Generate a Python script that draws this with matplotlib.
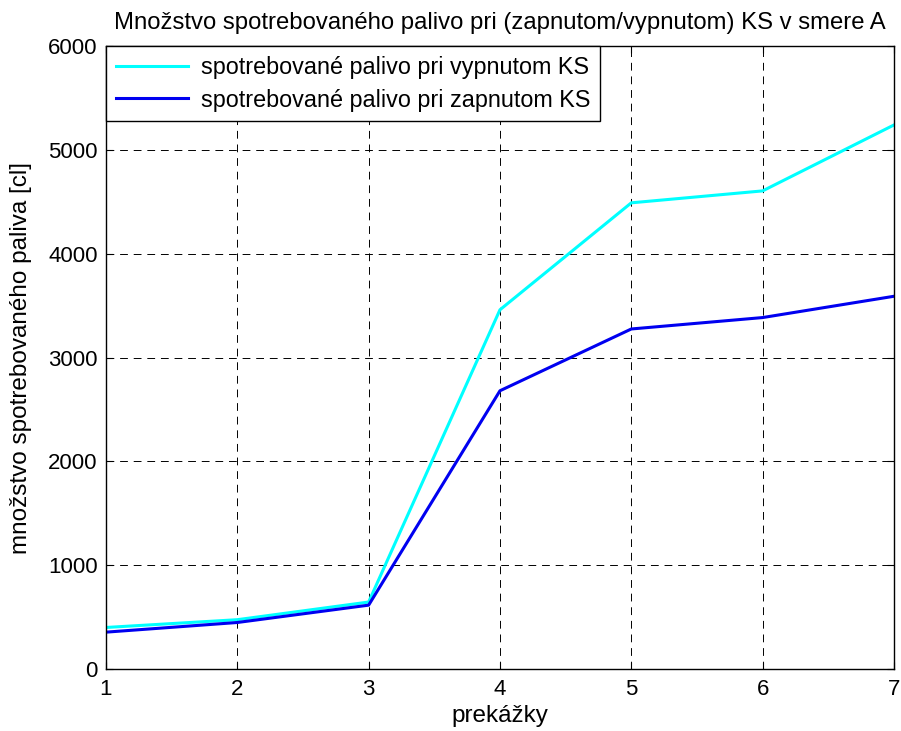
import matplotlib
matplotlib.use("Agg")
import matplotlib.pyplot as plt

plt.rcParams['font.family'] = ['Liberation Sans', 'DejaVu Sans']

prekazky = [1, 2, 3, 4, 5, 6, 7]
vypnuty = [400, 475, 645, 3460, 4490, 4605, 5240]
zapnuty = [355, 448, 615, 2680, 3275, 3385, 3590]

fig = plt.figure(figsize=(9.01, 7.31), dpi=100)
ax = fig.add_axes([0.1176, 0.0848, 0.8746, 0.8522])

ax.plot(prekazky, vypnuty, color='#00ffff', lw=2.2,
        label='spotrebované palivo pri vypnutom KS')
ax.plot(prekazky, zapnuty, color='#0000f0', lw=2.2,
        label='spotrebované palivo pri zapnutom KS')

ax.set_xlim(1, 7)
ax.set_ylim(0, 6000)
ax.set_xticks(prekazky)
ax.set_yticks(range(0, 6001, 1000))
ax.grid(True, color='black', linestyle=(0, (8, 6)), linewidth=0.7)
ax.tick_params(direction='in', labelsize=16, length=5, top=True, right=True)
ax.tick_params(axis='x', pad=7)
ax.tick_params(axis='y', pad=6)
for s in ax.spines.values():
    s.set_linewidth(1.0)

ax.set_title('Množstvo spotrebovaného palivo pri (zapnutom/vypnutom) KS v smere A',
             fontsize=17.2, pad=12)
ax.set_xlabel('prekážky', fontsize=17.5)
ax.set_ylabel('množstvo spotrebovaného paliva [cl]', fontsize=17.5)
ax.xaxis.set_label_coords(0.5, -0.058)
ax.yaxis.set_label_coords(-0.094, 0.5)

leg = ax.legend(loc='upper left', fontsize=16.8, fancybox=False, framealpha=1,
                edgecolor='black', borderaxespad=0, handlelength=3.1,
                handletextpad=0.55, borderpad=0.42, labelspacing=0.42)
leg.get_frame().set_linewidth(1.0)

fig.savefig('out.png', dpi=100)
